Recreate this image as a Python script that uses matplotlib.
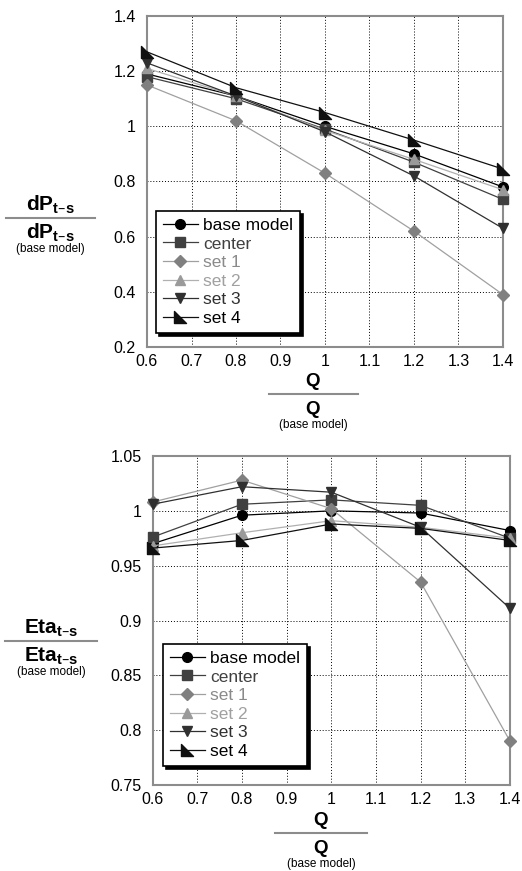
import numpy as np
from matplotlib import pyplot as plt
from matplotlib.path import Path

plt.rcParams['font.family'] = ['Liberation Sans', 'DejaVu Sans']

q = [0.6, 0.8, 1.0, 1.2, 1.4]
series = ["base model", "center", "set 1", "set 2", "set 3", "set 4"]

# dP_t-s / dP_t-s(base model)
dp_base = [1.19, 1.11, 1.00, 0.90, 0.78]
dp_center = [1.18, 1.10, 0.99, 0.87, 0.735]
dp_set1 = [1.15, 1.02, 0.83, 0.62, 0.39]
dp_set2 = [1.21, 1.11, 0.985, 0.88, 0.77]
dp_set3 = [1.23, 1.11, 0.98, 0.82, 0.63]
dp_set4 = [1.27, 1.14, 1.05, 0.95, 0.845]

# Eta_t-s / Eta_t-s(base model)
eta_base = [0.970, 0.996, 1.000, 0.998, 0.982]
eta_center = [0.976, 1.006, 1.010, 1.005, 0.975]
eta_set1 = [1.008, 1.028, 1.002, 0.935, 0.790]
eta_set2 = [0.968, 0.980, 0.991, 0.985, 0.975]
eta_set3 = [1.006, 1.022, 1.017, 0.985, 0.911]
eta_set4 = [0.966, 0.973, 0.988, 0.984, 0.973]

corner = Path([(-1, 1), (-1, -1), (1, -1), (-1, 1)],
              [Path.MOVETO, Path.LINETO, Path.LINETO, Path.CLOSEPOLY])
styles = {
    "base model": dict(marker="o", mc="#000000", lc="#000000", ms=7),
    "center": dict(marker="s", mc="#404040", lc="#404040", ms=7),
    "set 1": dict(marker="D", mc="#808080", lc="#a0a0a0", ms=6),
    "set 2": dict(marker="^", mc="#9a9a9a", lc="#b0b0b0", ms=7.5),
    "set 3": dict(marker="v", mc="#303030", lc="#303030", ms=7.5),
    "set 4": dict(marker=corner, mc="#101010", lc="#101010", ms=8.5),
}
text_colors = ["#000000", "#404040", "#8a8a8a", "#a0a0a0", "#303030", "#000000"]

fig = plt.figure(figsize=(5.22, 8.71), dpi=100)
ax1 = fig.add_axes([147/522, 1-347/871, 356/522, 331/871])
ax2 = fig.add_axes([152.5/522, 1-785/871, 357.5/522, 329/871])


def draw(ax, data, ylim, yticks, ylabels, legend_box):
    for name, vals in zip(series, data):
        st = styles[name]
        ax.plot(q, vals, color=st["lc"], lw=0.9, marker=st["marker"],
                ms=st["ms"], mfc=st["mc"], mec=st["mc"], label=name,
                clip_on=False, zorder=3)
    ax.set_xlim(0.6, 1.4)
    ax.set_ylim(*ylim)
    ax.set_xticks(np.arange(0.6, 1.41, 0.1))
    ax.set_xticklabels(["0.6", "0.7", "0.8", "0.9", "1", "1.1", "1.2", "1.3", "1.4"])
    ax.set_yticks(yticks)
    ax.set_yticklabels(ylabels)
    ax.tick_params(length=0, labelsize=11.5)
    ax.tick_params(axis="x", pad=5)
    ax.tick_params(axis="y", pad=8)
    ax.grid(True, color="black", lw=0.7, linestyle=(0, (1, 2)))
    for sp in ax.spines.values():
        sp.set_color("#8c8c8c")
        sp.set_linewidth(1.5)
    leg = ax.legend(loc="lower left", bbox_to_anchor=legend_box, fontsize=12.5,
                    fancybox=False, edgecolor="black", framealpha=1,
                    shadow={"color": "black", "alpha": 1},
                    handlelength=2.0, handletextpad=0.3, labelspacing=0.2,
                    borderpad=0.4, borderaxespad=0, labelcolor=text_colors)
    leg.get_frame().set_linewidth(1.2)


draw(ax1, [dp_base, dp_center, dp_set1, dp_set2, dp_set3, dp_set4],
     (0.2, 1.4), np.arange(0.2, 1.41, 0.2),
     ["0.2", "0.4", "0.6", "0.8", "1", "1.2", "1.4"],
     ((156-147)/356, (347-333)/331))
draw(ax2, [eta_base, eta_center, eta_set1, eta_set2, eta_set3, eta_set4],
     (0.75, 1.05), np.arange(0.75, 1.051, 0.05),
     ["0.75", "0.8", "0.85", "0.9", "0.95", "1", "1.05"],
     ((163-152.5)/357.5, (785-766)/329))


def frac_label(xc, yline, x0, x1, top, bottom_txt, size):
    # fraction-style axis label in figure pixels
    fx = lambda px: px/522
    fy = lambda py: 1 - py/871
    fig.add_artist(plt.Line2D([fx(x0), fx(x1)], [fy(yline), fy(yline)],
                              color="#8c8c8c", lw=1.5))
    fig.text(fx(xc), fy(yline-13), top, ha="center", va="center",
             fontsize=size, fontweight="bold")
    fig.text(fx(xc), fy(yline+15), bottom_txt, ha="center", va="center",
             fontsize=size, fontweight="bold")
    fig.text(fx(xc), fy(yline+31), "(base model)", ha="center", va="center",
             fontsize=8.5)


sub = "$_{\\mathregular{t\u2013s}}$"
frac_label(50, 218, 6, 95, "dP" + sub, "dP" + sub, 15)
frac_label(51, 641, 5, 97, "Eta" + sub, "Eta" + sub, 15)
frac_label(313, 394, 269, 358, "Q", "Q", 13.5)
frac_label(321, 833, 275, 367, "Q", "Q", 13.5)

plt.savefig("out.png", dpi=100)
plt.close()
